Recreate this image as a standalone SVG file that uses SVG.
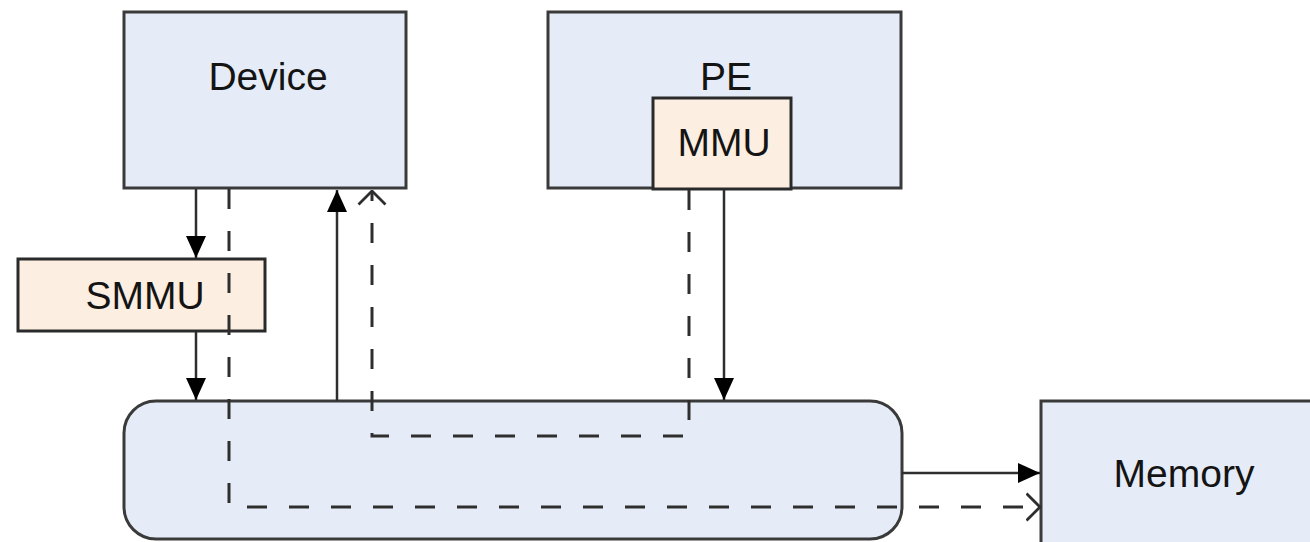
<svg xmlns="http://www.w3.org/2000/svg" width="1310" height="542" viewBox="0 0 1310 542">
<style>
.box{fill:#e6ecf7;stroke:#3a3a3a;stroke-width:3}
.sub{fill:#fdeee2;stroke:#2a2a2a;stroke-width:3}
.t{font-family:"Liberation Sans",Arial,sans-serif;font-size:39px;fill:#141414;text-anchor:middle}
.s{fill:none;stroke:#2e2e2e;stroke-width:2.5}
.d{fill:none;stroke:#2e2e2e;stroke-width:3;stroke-dasharray:20 22}
</style>
<defs>
<marker id="fa" viewBox="0 0 22 20" refX="22" refY="10" markerWidth="22" markerHeight="20" markerUnits="userSpaceOnUse" orient="auto">
<path d="M0,0 L22,10 L0,20 Z" fill="#000"/>
</marker>
<marker id="oa" viewBox="0 0 16 30" refX="14.5" refY="15" markerWidth="16" markerHeight="30" markerUnits="userSpaceOnUse" orient="auto">
<path d="M1,1.5 L14.5,15 L1,28.5" fill="none" stroke="#2e2e2e" stroke-width="2.8"/>
</marker>
</defs>
<g id="device"><rect class="box" x="124" y="12" width="282" height="176"/><text class="t" x="268" y="90">Device</text></g>
<g id="pe"><rect class="box" x="548" y="12" width="353" height="176"/><text class="t" x="726" y="90">PE</text></g>
<g id="mmu"><rect class="sub" x="653" y="98" width="138" height="91"/><text class="t" x="724" y="156">MMU</text></g>
<g id="smmu"><rect class="sub" x="18" y="259" width="247" height="72"/><text class="t" x="145" y="309">SMMU</text></g>
<g id="bus"><rect class="box" x="124" y="401" width="778" height="138" rx="32" ry="32"/></g>
<g id="memory"><rect class="box" x="1041" y="401" width="272" height="145"/><text class="t" x="1184" y="487">Memory</text></g>
<g id="connectors">
<line class="s" x1="196" y1="189" x2="196" y2="258" marker-end="url(#fa)"/>
<line class="s" x1="196" y1="332" x2="196" y2="400" marker-end="url(#fa)"/>
<line class="s" x1="337" y1="401" x2="337" y2="190" marker-end="url(#fa)"/>
<line class="s" x1="724" y1="190" x2="724" y2="400" marker-end="url(#fa)"/>
<line class="s" x1="902" y1="473" x2="1040" y2="473" marker-end="url(#fa)"/>
<path class="d" d="M229,189 L229,507 L1040,507" marker-end="url(#oa)"/>
<path class="d" d="M689,190 L689,436 L372,436 L372,191" marker-end="url(#oa)"/>
</g>
</svg>
